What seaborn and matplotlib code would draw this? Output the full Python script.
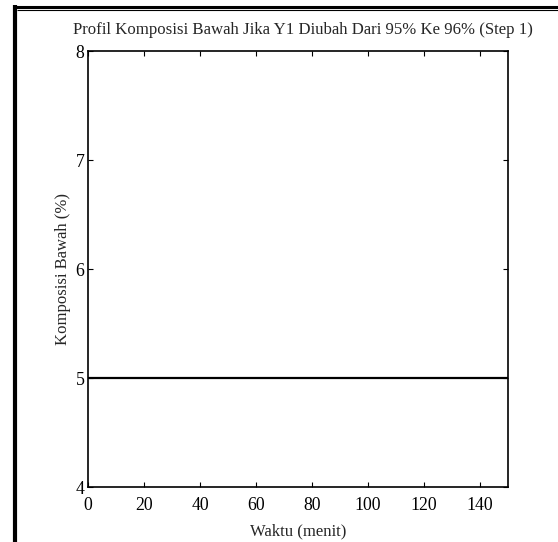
import matplotlib
matplotlib.use("Agg")
import matplotlib.pyplot as plt
from matplotlib.lines import Line2D
import seaborn as sns
import pandas as pd

# Data
waktu = [0, 150]
komposisi = [5, 5]
xticks = [0, 20, 40, 60, 80, 100, 120, 140]
yticks = [4, 5, 6, 7, 8]

sns.set_style("white")
plt.rcParams['font.family'] = ['Liberation Serif', 'DejaVu Serif']

W, H = 558, 542
fig = plt.figure(figsize=(W/100, H/100), dpi=100)
ax = fig.add_axes([88/W, 1-487/H, (508-88)/W, (487-51)/H])

df = pd.DataFrame({"Waktu": waktu, "Komposisi": komposisi})
sns.lineplot(data=df, x="Waktu", y="Komposisi", ax=ax, color="black", linewidth=1.6)

ax.set_xlim(0, 150)
ax.set_ylim(4, 8)
ax.set_xticks(xticks)
ax.set_yticks(yticks)
ax.tick_params(direction="in", length=3.5, width=0.8, top=True, right=True,
               bottom=True, left=True, labelsize=12.8, colors="black")
ax.tick_params(axis="x", pad=7)
ax.tick_params(axis="y", pad=2.5)
for s in ax.spines.values():
    s.set_color("black")
    s.set_linewidth(1.2)
    s.set_visible(True)

ax.set_xlabel("Waktu (menit)", fontsize=12, labelpad=7)
ax.set_ylabel("Komposisi Bawah (%)", fontsize=12, labelpad=3)
ax.set_title("Profil Komposisi Bawah Jika Y1 Diubah Dari 95% Ke 96% (Step 1)",
             fontsize=12.1, pad=12, x=0.5 + 5/420)

# Frame lines around the figure
def px(x, y):
    return x / W, 1 - y / H
x0, y0 = px(15, 5); x1, y1 = px(15, 542)
fig.add_artist(Line2D([x0, x1], [y0, y1], color="black", linewidth=3.0, solid_capstyle="butt"))
x0, y0 = px(13, 6.5); x1, y1 = px(558, 6.5)
fig.add_artist(Line2D([x0, x1], [y0, y1], color="black", linewidth=2.2, solid_capstyle="butt"))
x0, y0 = px(17, 9.8); x1, y1 = px(558, 9.8)
fig.add_artist(Line2D([x0, x1], [y0, y1], color="black", linewidth=0.8, solid_capstyle="butt"))

fig.savefig("out.png", dpi=100)
